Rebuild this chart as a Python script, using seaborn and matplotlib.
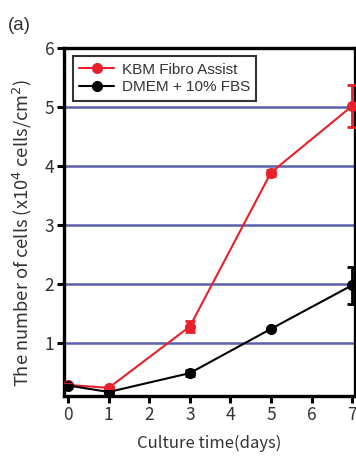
import matplotlib
matplotlib.use("Agg")
import matplotlib.pyplot as plt
import seaborn as sns
import pandas as pd

days = [0, 1, 3, 5, 7]
kbm = [0.29, 0.24, 1.28, 3.89, 5.02]
kbm_err = [0.02, 0.02, 0.10, 0.05, 0.35]
dmem = [0.28, 0.17, 0.49, 1.24, 1.98]
dmem_err = [0.01, 0.01, 0.05, 0.02, 0.31]
series_names = ["KBM Fibro Assist", "DMEM + 10% FBS"]
y_ticks = [1, 2, 3, 4, 5, 6]
x_ticks = [0, 1, 2, 3, 4, 5, 6, 7]

sns.set_style("white")
plt.rcParams["font.family"] = ["Liberation Sans", "DejaVu Sans"]

df = pd.DataFrame({
    "day": days * 2,
    "cells": kbm + dmem,
    "err": kbm_err + dmem_err,
    "group": [series_names[0]] * len(days) + [series_names[1]] * len(days),
})

fig = plt.figure(figsize=(3.56, 4.59), dpi=100)
ax = fig.add_axes([0.180, 0.137, 0.817, 0.758])

for yv in y_ticks[:-1]:
    ax.axhline(yv, color="#5a60aa", lw=1.8, zorder=1)

palette = {series_names[0]: "#e8202a", series_names[1]: "#000000"}
sns.lineplot(data=df, x="day", y="cells", hue="group", palette=palette,
             marker="o", markersize=8, markeredgewidth=0, lw=1.5, ax=ax,
             zorder=3)
for name in series_names:
    sub = df[df["group"] == name]
    ax.errorbar(sub["day"], sub["cells"], yerr=sub["err"], fmt="none",
                ecolor=palette[name], elinewidth=2, capsize=3.5, capthick=2,
                zorder=3)

ax.set_xlim(-0.1, 7.07)
ax.set_ylim(0.1, 6)
ax.set_xticks(x_ticks)
ax.set_yticks(y_ticks)
tick_font = ["Noto Sans CJK JP", "DejaVu Sans"]
ax.set_xticklabels([str(v) for v in x_ticks], family=tick_font, fontsize=12.5, color="#333333")
ax.set_yticklabels([str(v) for v in y_ticks], family=tick_font, fontsize=12.5, color="#333333")
ax.tick_params(axis="both", direction="out", length=5, width=2.2, color="black",
               left=True, bottom=True, pad=2)
for s in ax.spines.values():
    s.set_color("black")
    s.set_linewidth(2.4)

ax.set_xlabel("Culture time(days)", family=tick_font, fontsize=12, color="#333333", labelpad=8)
ax.set_ylabel("The number of cells (x10$^4$ cells/cm$^2$)", family=tick_font,
              fontsize=13.2, color="#333333")
ax.yaxis.set_label_coords(-0.105, 0.47)

leg = ax.legend(loc="upper left", bbox_to_anchor=(0.02, 0.985), fontsize=11,
                frameon=True, fancybox=False, handlelength=2.3, borderpad=0.4,
                labelspacing=0.25, handletextpad=0.5, borderaxespad=0.2)
leg.get_frame().set_edgecolor("black")
leg.get_frame().set_linewidth(1.5)
for t in leg.get_texts():
    t.set_color("#333333")

fig.text(0.022, 0.935, "(a)", fontsize=13.5, color="#333333")

fig.savefig("out.png", dpi=100)
